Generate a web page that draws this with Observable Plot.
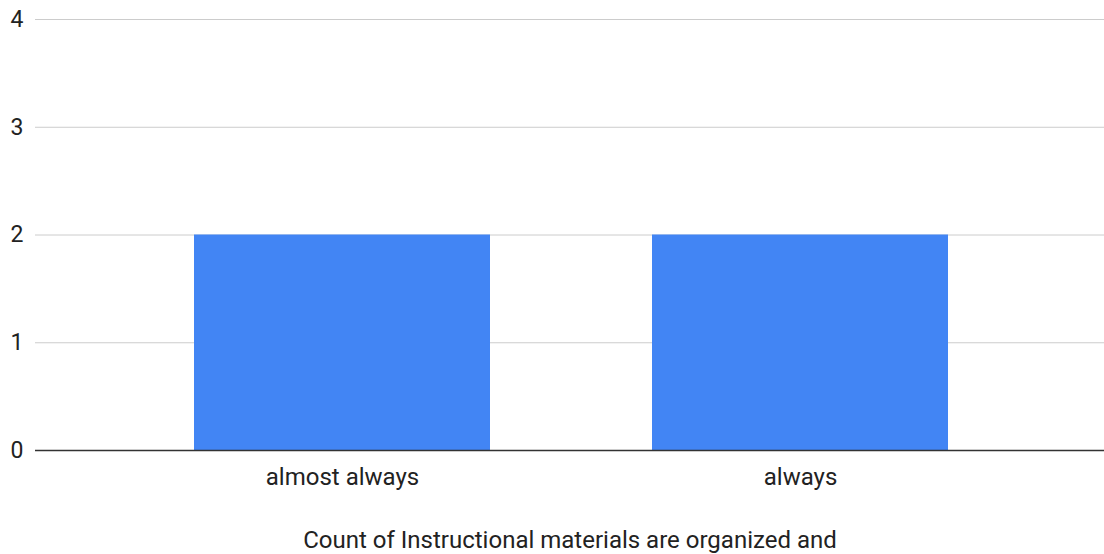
<!DOCTYPE html>
<html>
<head>
<meta charset="utf-8">
<script src="https://cdn.jsdelivr.net/npm/d3@7"></script>
<script src="https://cdn.jsdelivr.net/npm/@observablehq/plot@0.6"></script>
<style>
  html, body { margin: 0; padding: 0; background: #fff; }
  #chart { width: 1104px; height: 554px; overflow: hidden; }
</style>
</head>
<body>
<div id="chart"></div>
<script>
const categories = ["almost always", "always"];
const counts = [2, 2];
const yTicks = [0, 1, 2, 3, 4];
const gridTicks = [1, 2, 3, 4];
const titleText = "Count of Instructional materials are organized and";

const data = categories.map((c, i) => ({category: c, count: counts[i]}));

const chart = Plot.plot({
  width: 1104,
  height: 554,
  marginLeft: 35,
  marginRight: 0,
  marginTop: 19,
  marginBottom: 104,
  style: {fontFamily: "Roboto, 'Liberation Sans', Arial, sans-serif", background: "#fff", color: "#222"},
  x: {type: "band", domain: categories, range: [112, 1029], paddingInner: 0.354, paddingOuter: 0.177, align: 0.5, label: null},
  y: {domain: [0, 4], label: null},
  marks: [
    Plot.ruleY(gridTicks, {stroke: "#cccccc", strokeWidth: 1}),
    Plot.barY(data, {x: "category", y: "count", fill: "#4285f4"}),
    Plot.ruleY([0], {stroke: "#333333", strokeWidth: 1.3}),
    Plot.axisY({ticks: yTicks, tickSize: 0, tickPadding: 12, fontSize: 23, label: null, tickFormat: d3.format("d"), fill: "#222"}),
    Plot.axisX({tickSize: 0, tickPadding: 17, fontSize: 24, label: null, fill: "#222"}),
    Plot.text([titleText], {frameAnchor: "bottom", dy: 90, fontSize: 24, fill: "#222", lineAnchor: "middle"})
  ]
});
document.getElementById("chart").appendChild(chart);
</script>
</body>
</html>
